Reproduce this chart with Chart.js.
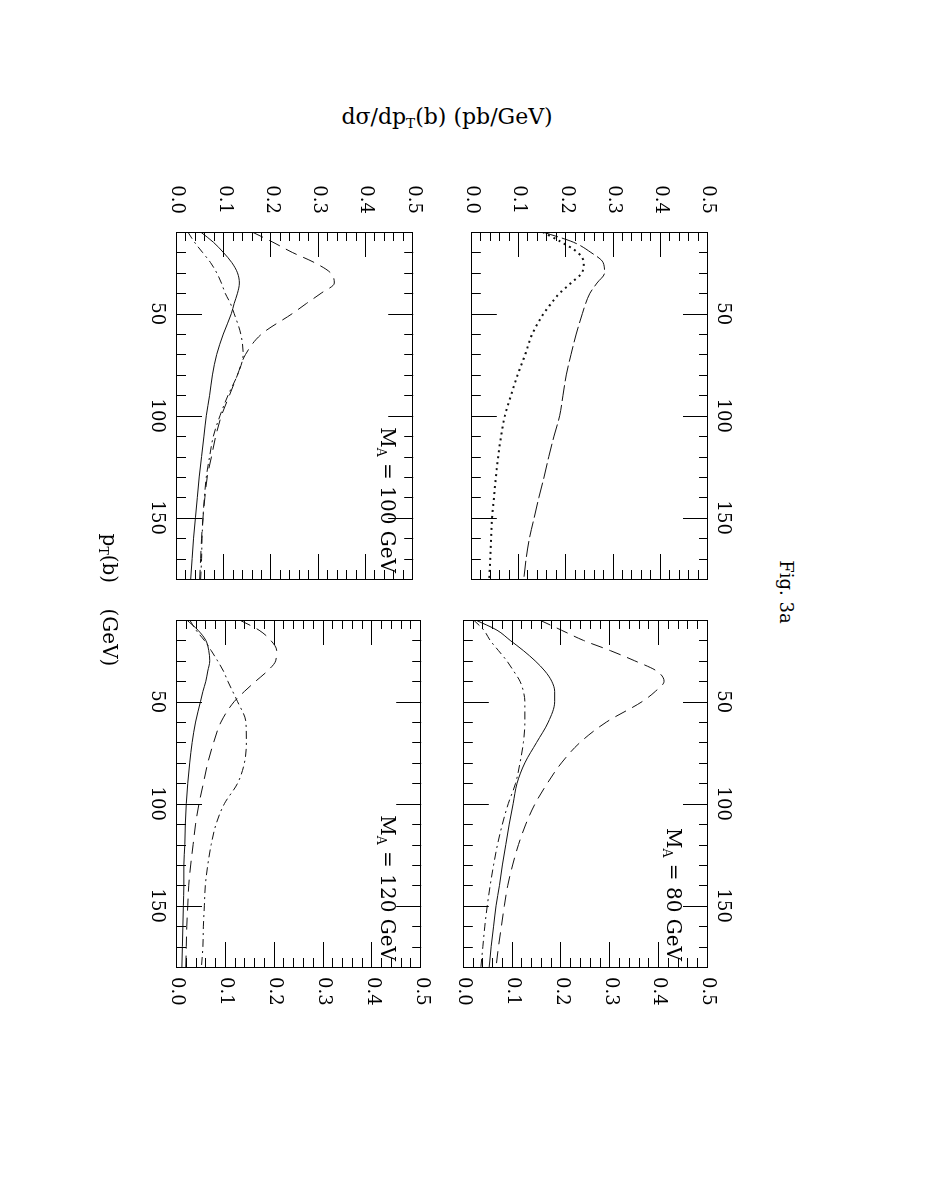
<!DOCTYPE html>
<html>
<head>
<meta charset="utf-8">
<title>Fig. 3a</title>
<script src="https://cdn.jsdelivr.net/npm/chart.js@4.4.1/dist/chart.umd.min.js"></script>
<style>
  html, body { margin: 0; padding: 0; background: #fff; overflow: hidden; }
  body { width: 927px; height: 1199px; position: relative; }
  /* the figure is laid out in landscape, then turned a quarter turn clockwise */
  #page {
    position: absolute; left: 0; top: 0; width: 1199px; height: 927px;
    transform-origin: 0 0; transform: translate(927px, 0) rotate(90deg);
    font-family: "DejaVu Serif", serif; color: #000;
  }
  #page canvas { position: absolute; }
  .txt { position: absolute; white-space: nowrap; line-height: 1; }
  .txt sub { font-size: 62%; vertical-align: -0.3em; line-height: 0; }
  .center { transform: translate(-50%, -50%); }
</style>
</head>
<body>
<div id="page">
  <canvas id="panelA" width="447" height="325" style="left:152px;top:159px"></canvas>
  <canvas id="panel80" width="447" height="325" style="left:600px;top:159px"></canvas>
  <canvas id="panel100" width="447" height="325" style="left:152px;top:485px"></canvas>
  <canvas id="panel120" width="447" height="325" style="left:600px;top:485px"></canvas>

  <div class="txt" style="left:117px;top:480px;font-size:22px;transform:translate(-50%,-50%) rotate(-90deg)">d&sigma;/dp<sub>T</sub>(b) (pb/GeV)</div>
  <div class="txt center" style="left:592px;top:141px;font-size:18px">Fig. 3a</div>
  <div class="txt center" style="left:600px;top:817px;font-size:20px">p<sub>T</sub>(b)&nbsp;&nbsp;&nbsp;&nbsp;(GeV)</div>

  <div class="txt" style="right:238px;top:243px;font-size:20px">M<sub>A</sub> = 80 GeV</div>
  <div class="txt" style="right:626px;top:529px;font-size:20px">M<sub>A</sub> = 100 GeV</div>
  <div class="txt" style="right:238px;top:529px;font-size:20px">M<sub>A</sub> = 120 GeV</div>
</div>

<script>
// pT(b) sampling points (GeV), shared by every curve
const pT = [10, 15, 20, 25, 30, 35, 40, 45, 50, 60, 70, 80, 90, 100, 110, 120, 130, 140, 150, 160, 170, 180];

// axis ticks
const pTLabelled = [50, 100, 150];
const pTMin = 10, pTMax = 180;
const sigmaMax = 0.5;

// panel without label (top left)
const aDashed = [0.150, 0.215, 0.252, 0.278, 0.281, 0.265, 0.250, 0.241, 0.234, 0.221, 0.210, 0.200, 0.193, 0.186, 0.174, 0.163, 0.153, 0.142, 0.132, 0.122, 0.115, 0.110];
const aDotted = [0.150, 0.190, 0.224, 0.237, 0.233, 0.210, 0.186, 0.168, 0.152, 0.128, 0.113, 0.097, 0.083, 0.070, 0.062, 0.056, 0.051, 0.047, 0.043, 0.041, 0.039, 0.037];

// M_A = 80 GeV
const ma80Solid   = [0.024, 0.068, 0.095, 0.122, 0.146, 0.166, 0.180, 0.186, 0.186, 0.173, 0.149, 0.125, 0.109, 0.101, 0.093, 0.086, 0.079, 0.073, 0.066, 0.061, 0.056, 0.052];
const ma80Dashed  = [0.155, 0.200, 0.245, 0.300, 0.350, 0.395, 0.410, 0.392, 0.365, 0.292, 0.238, 0.200, 0.171, 0.146, 0.127, 0.112, 0.100, 0.090, 0.083, 0.077, 0.071, 0.066];
const ma80DashDot = [0.020, 0.041, 0.054, 0.071, 0.088, 0.102, 0.115, 0.122, 0.125, 0.125, 0.122, 0.115, 0.106, 0.091, 0.079, 0.069, 0.061, 0.054, 0.048, 0.043, 0.039, 0.035];

// M_A = 100 GeV
const ma100Solid   = [0.050, 0.077, 0.098, 0.116, 0.128, 0.132, 0.128, 0.121, 0.115, 0.098, 0.084, 0.075, 0.069, 0.062, 0.057, 0.052, 0.047, 0.043, 0.039, 0.035, 0.032, 0.029];
const ma100Dashed  = [0.159, 0.203, 0.244, 0.291, 0.325, 0.333, 0.305, 0.274, 0.244, 0.179, 0.145, 0.128, 0.111, 0.094, 0.082, 0.073, 0.064, 0.059, 0.055, 0.052, 0.050, 0.048];
const ma100DashDot = [0.023, 0.037, 0.054, 0.071, 0.084, 0.094, 0.102, 0.113, 0.121, 0.135, 0.140, 0.128, 0.108, 0.091, 0.077, 0.069, 0.062, 0.058, 0.055, 0.053, 0.052, 0.050];

// M_A = 120 GeV
const ma120Solid   = [0.020, 0.043, 0.059, 0.065, 0.067, 0.063, 0.059, 0.053, 0.048, 0.038, 0.031, 0.026, 0.022, 0.019, 0.017, 0.016, 0.014, 0.014, 0.013, 0.012, 0.011, 0.010];
const ma120Dashed  = [0.128, 0.168, 0.192, 0.204, 0.202, 0.185, 0.161, 0.138, 0.117, 0.090, 0.075, 0.063, 0.054, 0.045, 0.038, 0.033, 0.028, 0.024, 0.022, 0.020, 0.019, 0.018];
const ma120DashDot = [0.026, 0.039, 0.056, 0.070, 0.083, 0.095, 0.104, 0.114, 0.124, 0.141, 0.142, 0.138, 0.124, 0.097, 0.080, 0.070, 0.063, 0.058, 0.056, 0.054, 0.053, 0.050];

// line styles
const solid   = { width: 1, dash: [] };
const dashed  = { width: 1, dash: [12, 7] };
const longDash = { width: 1, dash: [16, 4] };
const dotted  = { width: 2, dash: [2, 4] };
const dashDot = { width: 1, dash: [8, 4, 2, 4] };

const FONT = { family: "DejaVu Serif", size: 18 };

// frame with inward ticks on all four sides
const frameTicks = {
  id: 'frameTicks',
  afterDraw(chart) {
    const { ctx, chartArea: a, scales: { x, y } } = chart;
    ctx.save();
    ctx.strokeStyle = '#000';
    ctx.lineWidth = 1;
    ctx.strokeRect(Math.round(a.left) + 0.5, Math.round(a.top) + 0.5,
                   Math.round(a.right - a.left), Math.round(a.bottom - a.top));
    ctx.beginPath();
    for (let p = pTMin + 10; p < pTMax; p += 10) {
      const px = Math.round(x.getPixelForValue(p)) + 0.5;
      const len = pTLabelled.includes(p) ? 25 : 9;
      ctx.moveTo(px, a.top); ctx.lineTo(px, a.top + len);
      ctx.moveTo(px, a.bottom); ctx.lineTo(px, a.bottom - len);
    }
    for (let k = 1; k < 25; k++) {
      const py = Math.round(y.getPixelForValue(k * 0.02)) + 0.5;
      const len = k % 5 === 0 ? 25 : 9;
      ctx.moveTo(a.left, py); ctx.lineTo(a.left + len, py);
      ctx.moveTo(a.right, py); ctx.lineTo(a.right - len, py);
    }
    ctx.stroke();
    ctx.restore();
  }
};

function panel(id, series, xPos, yPos) {
  return new Chart(document.getElementById(id), {
    type: 'line',
    data: {
      datasets: series.map(s => ({
        data: pT.map((p, i) => ({ x: p, y: s.values[i] })),
        borderColor: '#111',
        borderWidth: s.style.width,
        borderDash: s.style.dash,
        pointRadius: 0,
        fill: false,
        cubicInterpolationMode: 'monotone'
      }))
    },
    options: {
      responsive: false,
      animation: false,
      events: [],
      layout: { padding: 20 },
      plugins: { legend: { display: false }, tooltip: { enabled: false } },
      scales: {
        x: {
          type: 'linear', position: xPos, min: pTMin, max: pTMax,
          grid: { display: false, drawTicks: false },
          border: { display: false },
          ticks: {
            stepSize: 10, autoSkip: false, maxRotation: 0,
            padding: xPos === 'top' ? 4 : 10,
            font: FONT, color: '#000',
            callback: v => pTLabelled.includes(v) ? String(v) : ''
          },
          afterFit: s => { s.height = 40; }
        },
        y: {
          type: 'linear', position: yPos, min: 0, max: sigmaMax,
          grid: { display: false, drawTicks: false },
          border: { display: false },
          ticks: {
            stepSize: 0.1, padding: yPos === 'left' ? 18 : 10,
            font: FONT, color: '#000',
            callback: v => v.toFixed(1)
          },
          afterFit: s => { s.width = 60; }
        }
      }
    },
    plugins: [frameTicks]
  });
}

panel('panelA', [
  { values: aDashed, style: longDash },
  { values: aDotted, style: dotted }
], 'top', 'left');

panel('panel80', [
  { values: ma80Solid, style: solid },
  { values: ma80Dashed, style: dashed },
  { values: ma80DashDot, style: dashDot }
], 'top', 'right');

panel('panel100', [
  { values: ma100Solid, style: solid },
  { values: ma100Dashed, style: dashed },
  { values: ma100DashDot, style: dashDot }
], 'bottom', 'left');

panel('panel120', [
  { values: ma120Solid, style: solid },
  { values: ma120Dashed, style: dashed },
  { values: ma120DashDot, style: dashDot }
], 'bottom', 'right');
</script>
</body>
</html>
